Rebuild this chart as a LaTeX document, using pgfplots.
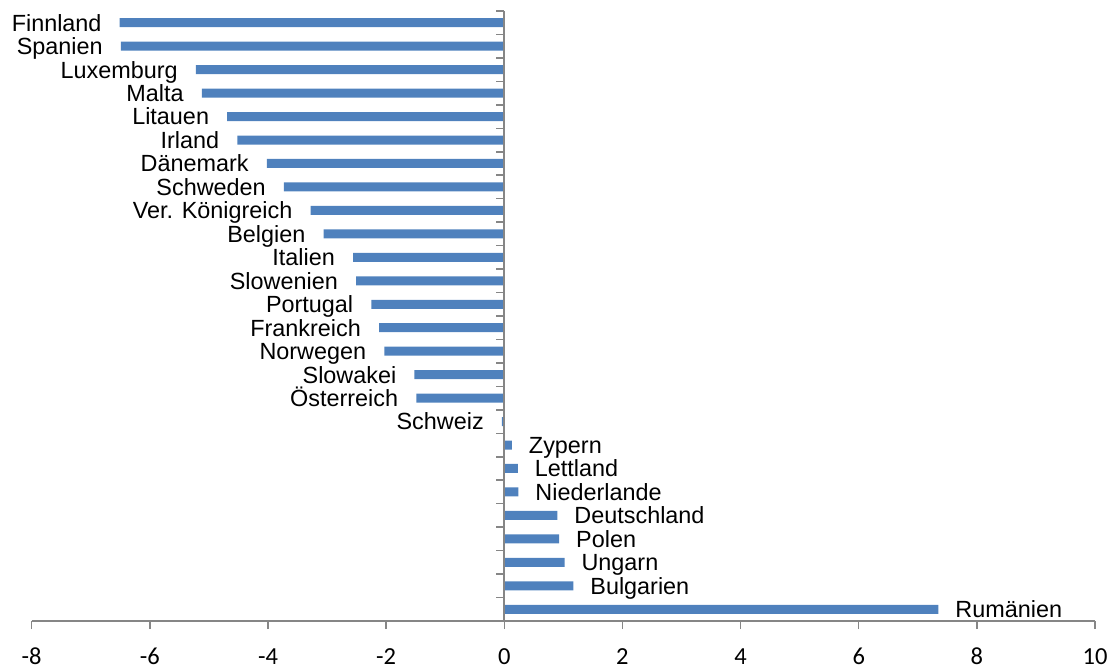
\documentclass[border=0pt]{standalone}
\usepackage{pgfplots}
\pgfplotsset{compat=1.18}
\usepackage{pgfplotstable}
\usepackage{fontspec}
\setmainfont{Liberation Sans}
\newfontfamily\labelfont{Liberation Sans}
\newfontfamily\tickfont{Carlito}
\definecolor{barblue}{HTML}{4F81BD}
\definecolor{axisgray}{HTML}{868686}

% countries below zero
\pgfplotstableread[col sep=comma]{
y,val,label
26,-6.51,Finnland
25,-6.49,Spanien
24,-5.22,Luxemburg
23,-5.12,Malta
22,-4.69,Litauen
21,-4.52,Irland
20,-4.02,Dänemark
19,-3.73,Schweden
18,-3.28,Ver. Königreich
17,-3.06,Belgien
16,-2.56,Italien
15,-2.51,Slowenien
14,-2.25,Portugal
13,-2.12,Frankreich
12,-2.03,Norwegen
11,-1.52,Slowakei
10,-1.49,Österreich
9,-0.04,Schweiz
}\negdata

% countries above zero
\pgfplotstableread[col sep=comma]{
y,val,label
8,0.13,Zypern
7,0.23,Lettland
6,0.24,Niederlande
5,0.90,Deutschland
4,0.93,Polen
3,1.02,Ungarn
2,1.17,Bulgarien
1,7.35,Rumänien
}\posdata

\begin{document}
\begin{tikzpicture}
\path[use as bounding box] (-15.85bp,-23.5bp) rectangle (541.15bp,310.5bp);
\begin{axis}[
  at={(0,0)}, anchor=south west,
  scale only axis, width=531.65bp, height=305bp,
  xmin=-8, xmax=10, ymin=0.5, ymax=26.5,
  clip=false,
  xbar, bar width=4.5bp, bar shift=0pt,
  axis x line=bottom, axis y line=none,
  xtick={-8,-6,...,10},
  x axis line style={axisgray, line width=0.75bp, -},
  x tick style={axisgray, line width=0.75bp},
  tick align=outside, major tick length=4bp,
  xticklabel style={font=\tickfont\fontsize{12.25bp}{14bp}\selectfont, anchor=base, yshift=-17.5bp, text=black},
  /pgf/number format/assume math mode=true,
  nodes near coords,
  point meta=explicit symbolic,
  every node near coord/.append style={font=\labelfont\fontsize{11.7bp}{14bp}\selectfont, inner sep=0pt, text=black},
]
\addplot[fill=barblue, draw=none,
  nodes near coords style={anchor=base east, xshift=-8.9bp, yshift=-4.2bp}]
  table[x=val, y=y, meta=label]{\negdata};
\addplot[fill=barblue, draw=none,
  nodes near coords style={anchor=base west, xshift=8.3bp, yshift=-4.2bp}]
  table[x=val, y=y, meta=label]{\posdata};
% category separators on the zero line
\pgfplotsinvokeforeach{0,...,26}{
  \draw[axisgray, line width=0.75bp] (axis cs:0,#1+0.5) -- ++(-4bp,0pt);
}
\draw[axisgray, line width=1bp] (axis cs:0,0.5) -- (axis cs:0,26.5);
\end{axis}
\end{tikzpicture}
\end{document}
